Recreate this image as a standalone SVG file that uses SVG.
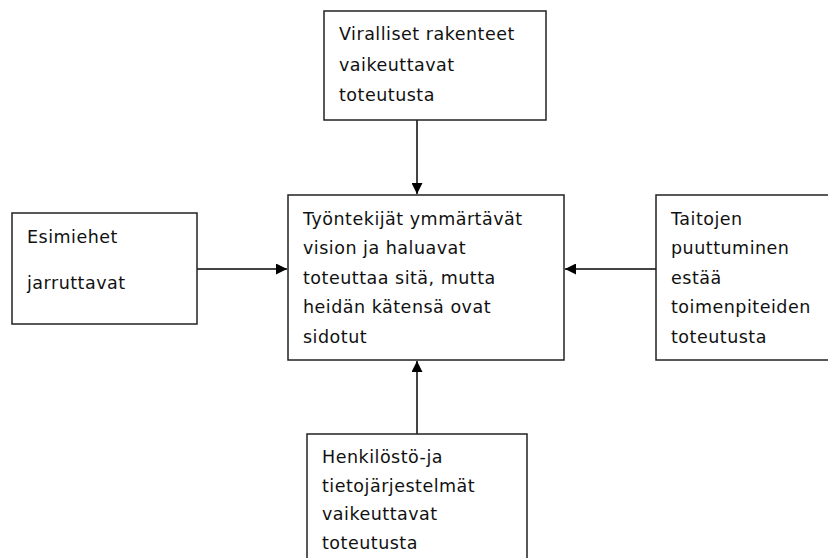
<svg xmlns="http://www.w3.org/2000/svg" width="828" height="558" viewBox="0 0 828 558">
<style>
.box{fill:#fff;stroke:#222;stroke-width:1.5}
.t{font-family:"DejaVu Sans",sans-serif;font-size:17.5px;letter-spacing:0.5px;fill:#111}
.c{stroke:#444;stroke-width:2;fill:none;marker-end:url(#ah)}
</style>
<defs>
<marker id="ah" viewBox="0 0 10 10" refX="10" refY="5" markerWidth="5.5" markerHeight="5.5" orient="auto" markerUnits="strokeWidth">
<path d="M0,0 L10,5 L0,10 z" fill="#000"/>
</marker>
</defs>
<rect width="828" height="558" fill="#fff"/>
<g id="connectors">
<line class="c" x1="417" y1="120" x2="417" y2="194"/>
<line class="c" x1="197" y1="269" x2="287" y2="269"/>
<line class="c" x1="656" y1="269" x2="565" y2="269"/>
<line class="c" x1="417" y1="434" x2="417" y2="361"/>
</g>
<g id="top">
<rect class="box" x="324" y="11" width="222" height="109"/>
<text class="t" x="339" y="40">Viralliset rakenteet</text>
<text class="t" x="339" y="71">vaikeuttavat</text>
<text class="t" x="339" y="101">toteutusta</text>
</g>
<g id="left">
<rect class="box" x="12" y="213" width="185" height="111"/>
<text class="t" x="27" y="243">Esimiehet</text>
<text class="t" x="27" y="289">jarruttavat</text>
</g>
<g id="center">
<rect class="box" x="288" y="195" width="276" height="165"/>
<text class="t" x="303" y="225">Työntekijät ymmärtävät</text>
<text class="t" x="303" y="254">vision ja haluavat</text>
<text class="t" x="303" y="284">toteuttaa sitä, mutta</text>
<text class="t" x="303" y="313">heidän kätensä ovat</text>
<text class="t" x="303" y="343">sidotut</text>
</g>
<g id="right">
<rect class="box" x="656" y="195" width="180" height="165"/>
<text class="t" x="671" y="225">Taitojen</text>
<text class="t" x="671" y="254">puuttuminen</text>
<text class="t" x="671" y="284">estää</text>
<text class="t" x="671" y="313">toimenpiteiden</text>
<text class="t" x="671" y="343">toteutusta</text>
</g>
<g id="bottom">
<rect class="box" x="307" y="434" width="220" height="140"/>
<text class="t" x="322" y="463">Henkilöstö-ja</text>
<text class="t" x="322" y="492">tietojärjestelmät</text>
<text class="t" x="322" y="520">vaikeuttavat</text>
<text class="t" x="322" y="549">toteutusta</text>
</g>
</svg>
